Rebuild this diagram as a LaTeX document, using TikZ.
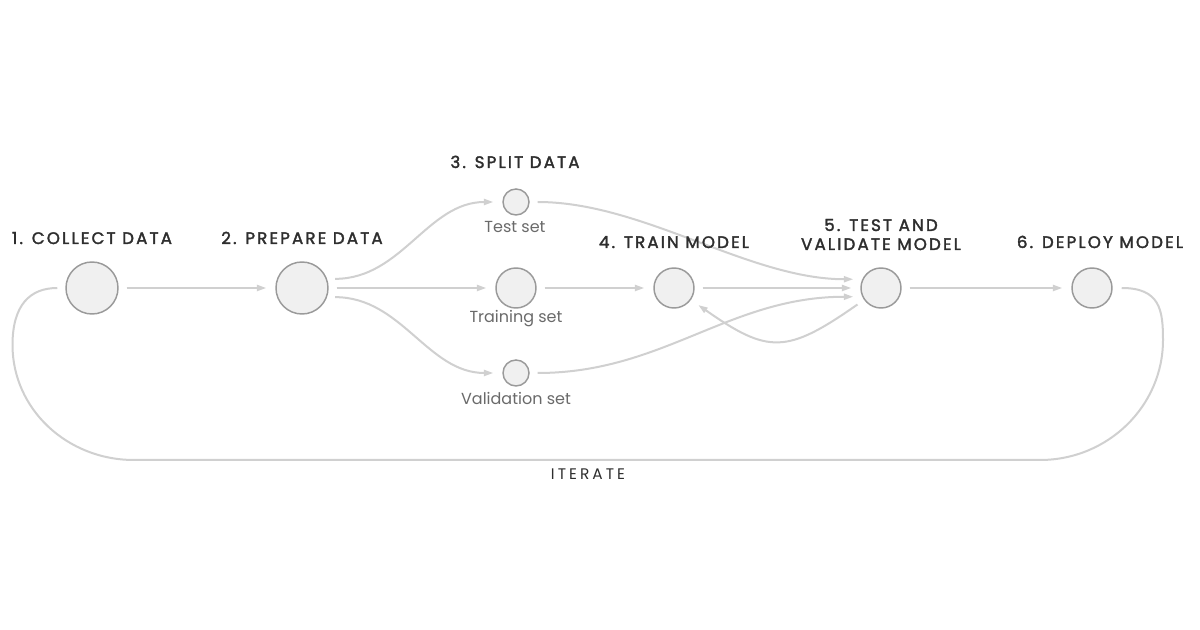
\documentclass[tikz,border=0pt]{standalone}
\usepackage{fontspec}
\setmainfont{Poppins}
\newfontfamily\headfont{Poppins}[LetterSpace=13,FakeBold=2]
\newfontfamily\itfont{Poppins}[LetterSpace=20]
\newfontfamily\labfont{Poppins}
\usetikzlibrary{arrows.meta}
\definecolor{linegray}{HTML}{D0D0D0}
\definecolor{circedge}{HTML}{9A9A9A}
\definecolor{circfill}{HTML}{F0F0F0}
\definecolor{headcol}{HTML}{2E2E2E}
\definecolor{labcol}{HTML}{6A6A6A}
\begin{document}
\begin{tikzpicture}[x=0.75pt,y=-0.75pt,
  stage/.style={circle,draw=circedge,fill=circfill,line width=1.1pt,inner sep=0pt},
  bigstage/.style={stage,minimum size=39pt},
  midstage/.style={stage,minimum size=30pt},
  smallstage/.style={stage,minimum size=19.5pt},
  flow/.style={draw=linegray,line width=1.5pt,-{Triangle[length=7pt,width=4.5pt]},shorten <=6pt,shorten >=6.75pt},
  loopline/.style={draw=linegray,line width=1.5pt,shorten <=6.75pt,shorten >=6pt},
  heading/.style={font=\headfont\fontsize{12.5}{15}\selectfont,text=headcol,align=center,inner sep=0pt,anchor=base},
  itlabel/.style={font=\itfont\fontsize{11.5}{14}\selectfont,text=headcol,inner sep=0pt,anchor=base},
  setlabel/.style={font=\labfont\fontsize{12}{14}\selectfont,text=labcol,inner sep=0pt,anchor=base}]
\fill[white] (0,0) rectangle (1200,630);
\useasboundingbox (0,0) rectangle (1200,630);

% stages
\node[bigstage] (n1) at (92,288) {};
\node[bigstage] (n2) at (302,288) {};
\node[smallstage] (test) at (516,202) {};
\node[midstage] (train) at (516,288) {};
\node[smallstage] (val) at (516,373) {};
\node[midstage] (n4) at (674,288) {};
\node[midstage] (n5) at (881,288) {};
\node[midstage] (n6) at (1092,288) {};

% connectors
\draw[flow] (n1) -- (n2);
\draw[flow] (n2.20) to[out=0,in=180] (test);
\draw[flow] (n2) -- (train);
\draw[flow] (n2.-20) to[out=0,in=180] (val);
\draw[flow] (train) -- (n4);
\draw[flow] (test) to[out=0,in=180,looseness=0.85] (n5.155);
\draw[flow] (n4) -- (n5);
\draw[flow] (val) to[out=0,in=180] (n5.205);
\draw[flow] (n5.215) to[out=215,in=-35,looseness=1.4] (n4.-35);
\draw[flow] (n5) -- (n6);
\draw[loopline] (n6.east) .. controls (1160,288) and (1163,310) .. (1163,340)
  .. controls (1163,406) and (1108,460) .. (1040,460) -- (134,460)
  .. controls (67,460) and (12.5,409) .. (12.5,345)
  .. controls (12.5,305) and (30,288) .. (n1.west);

% headings
\node[heading] (h1) at (92,244) {1. COLLECT DATA};
\node[heading] (h2) at (302,244) {2. PREPARE DATA};
\node[heading] (h3) at (515,168) {3. SPLIT DATA};
\node[heading] (h4) at (674,248) {4. TRAIN MODEL};
\node[heading] (h5a) at (881,231) {5. TEST AND};
\node[heading] (h5b) at (881,250) {VALIDATE MODEL};
\node[heading] (h6) at (1100,248) {6. DEPLOY MODEL};
\node[itlabel] (it) at (588,480) {ITERATE};

% set labels
\node[setlabel] (lt) at (515,233) {Test set};
\node[setlabel] (ltr) at (516,323) {Training set};
\node[setlabel] (lv) at (516,405) {Validation set};
\end{tikzpicture}
\end{document}
